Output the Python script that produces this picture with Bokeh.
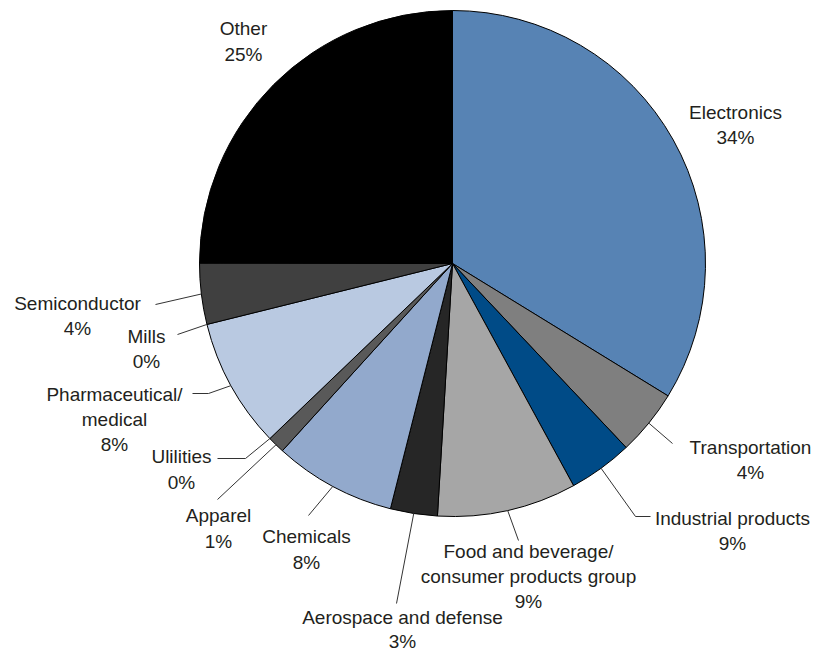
import math
from bokeh.plotting import figure
from bokeh.models import Range1d, ColumnDataSource
from bokeh.core.properties import value
from bokeh.embed import file_html
from bokeh.resources import INLINE

# ---- data ----
categories = ["Electronics", "Transportation", "Industrial products",
              "Food and beverage/\nconsumer products group", "Aerospace and defense",
              "Chemicals", "Apparel", "Ulilities", "Pharmaceutical/\nmedical",
              "Mills", "Semiconductor", "Other"]
shares = [33.8, 4.2, 4.1, 8.9, 3.0, 7.8, 1.1, 0.0, 8.3, 0.0, 3.9, 25.0]
pct_labels = ["34%", "4%", "9%", "9%", "3%", "8%", "1%", "0%", "8%", "0%", "4%", "25%"]
colors = ["#5783b4", "#7f7f7f", "#004b87", "#a6a6a6", "#262626", "#92a9cc",
          "#595959", "#595959", "#b9c9e1", "#404040", "#404040", "#000000"]

# ---- layout (picture pixel coordinates, y downwards; label y = first line centre) ----
W, H = 812, 651
CX, CY, R = 452, 263, 253
label_x = [735, 750, 732, 528, 402, 306, 218, 181, 114, 146, 77, 243]
label_y = [112, 447, 518, 551, 617, 536, 515, 456, 394, 336, 303, 28]
line_h = [25, 25, 25, 25, 24, 26, 26, 26, 25, 25, 25, 26]
# leader outer path points (after the point on the rim), None = no leader
leader_pts = [None,
              [(672, 443)],
              [(635, 516), (650, 516)],
              [(518, 540)],
              [(396, 603)],
              [(308, 515)],
              [(217, 499)],
              [(245, 458), (217, 458)],
              [(208, 393), (192, 393)],
              [(177, 334)],
              [(155, 304)],
              None]


def yd(y):
    return H - y


p = figure(width=W, height=H, x_range=Range1d(0, W), y_range=Range1d(0, H),
           output_backend="svg", toolbar_location=None, min_border=0,
           x_axis_location=None, y_axis_location=None)
p.grid.visible = False
p.outline_line_color = None
p.background_fill_color = "white"
p.border_fill_color = "white"

total = sum(shares)
starts, ends, cols, mids = [], [], [], []
acc = 0.0
for s, c in zip(shares, colors):
    t0 = acc / total * 360.0
    t1 = (acc + s) / total * 360.0
    mids.append((t0 + t1) / 2)
    if s > 0:
        starts.append(math.radians(90 - t0))
        ends.append(math.radians(90 - t1))
        cols.append(c)
    acc += s

src = ColumnDataSource(dict(x=[CX] * len(starts), y=[yd(CY)] * len(starts),
                            start=starts, end=ends, color=cols))
p.wedge(x="x", y="y", radius=R, start_angle="start", end_angle="end",
        direction="clock", fill_color="color", line_color="black", line_width=1,
        source=src)

# leader lines
xs, ys = [], []
for m, pts in zip(mids, leader_pts):
    if pts is None:
        continue
    a = math.radians(m)
    x0 = CX + R * math.sin(a)
    y0 = CY - R * math.cos(a)
    xs.append([x0] + [q[0] for q in pts])
    ys.append([yd(y0)] + [yd(q[1]) for q in pts])
p.multi_line(xs=xs, ys=ys, line_color="#333333", line_width=1)

# labels
tx, ty, tt = [], [], []
for name, pct, lx, ly, lh in zip(categories, pct_labels, label_x, label_y, line_h):
    lines = name.split("\n") + [pct]
    for i, ln in enumerate(lines):
        tx.append(lx)
        ty.append(yd(ly + i * lh))
        tt.append(ln)
p.text(x=tx, y=ty, text=tt, text_align="center", text_baseline="middle",
       text_font=value("Liberation Sans"), text_font_size="19px",
       text_color="#231f20")

open("out.html", "w").write(file_html(p, INLINE))
